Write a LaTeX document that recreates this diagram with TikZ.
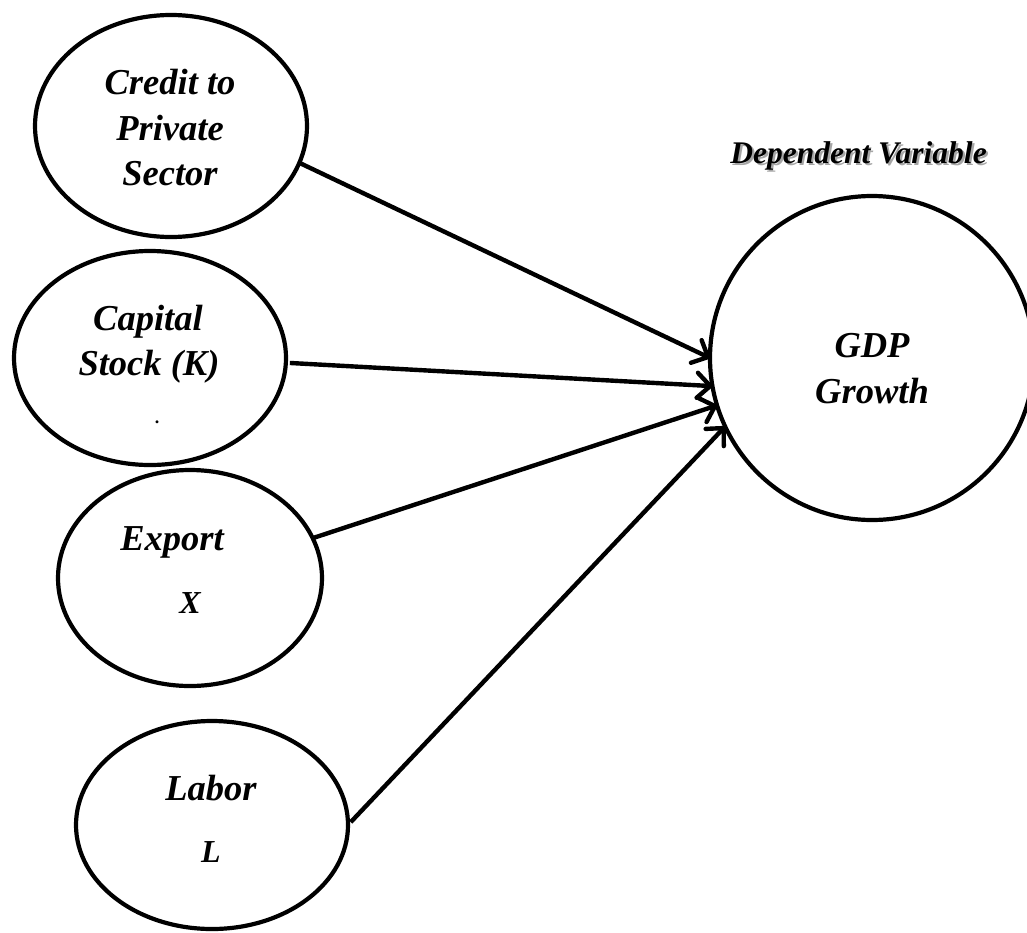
\documentclass[tikz,border=0pt]{standalone}
\usepackage{fontspec}
\setmainfont{Liberation Serif}
\usetikzlibrary{arrows.meta,shapes.geometric}
\begin{document}
\begin{tikzpicture}[x=1pt,y=-1pt,
  oval/.style={draw,ellipse,line width=4.2pt,inner sep=0pt,outer sep=0pt},
  lbl/.style={anchor=base,inner sep=0pt,font=\fontsize{36.5}{44}\selectfont\bfseries\itshape},
  sml/.style={anchor=base,inner sep=0pt,font=\fontsize{32}{38}\selectfont\bfseries\itshape},
  deplbl/.style={anchor=base,inner sep=0pt,font=\fontsize{31.5}{36}\selectfont\bfseries\itshape},
  link/.style={line width=4.4pt,-{Straight Barb[length=13pt,width=25pt,line cap=round,line join=round]}}
]
\useasboundingbox (0,0) rectangle (1027,932);
\clip (0,0) rectangle (1027,932);

% ovals
\node[oval,minimum width=272pt,minimum height=222pt] (credit) at (171,126) {};
\node[oval,minimum width=272pt,minimum height=214pt] (capital) at (150,358) {};
\node[oval,minimum width=264pt,minimum height=216pt] (export) at (190,578) {};
\node[oval,minimum width=272pt,minimum height=208pt] (labor) at (212,825) {};
\node[draw,circle,line width=4.2pt,inner sep=0pt,outer sep=0pt,minimum size=324pt] (gdp) at (872,358) {};

% texts
\node[lbl] (c1) at (170,94) {Credit to};
\node[lbl] (c2) at (170,140) {Private};
\node[lbl] (c3) at (170,185) {Sector};
\node[lbl] (k1) at (148,330) {Capital};
\node[lbl] (k2) at (149,375) {Stock (K)};
\node[anchor=base,inner sep=0pt,font=\fontsize{18}{20}\selectfont\bfseries] (kdot) at (157,423) {.};
\node[lbl] (x1) at (172,550) {Export};
\node[sml] (x2) at (190,613) {X};
\node[lbl] (l1) at (211,800) {Labor};
\node[sml] (l2) at (211,862) {L};
\node[lbl] (g1) at (872,357) {GDP};
\node[lbl] (g2) at (872,403) {Growth};
\node[deplbl] (dep) at (858.5,163) {\rlap{\hspace{2.2pt}\raisebox{-2.6pt}{\color{black!35}Dependent Variable}}Dependent Variable};

% connectors
\draw[link] (credit.-16.8) -- (gdp.180.7);
\draw[link,shorten <=4pt] (capital.-2) -- (gdp.190.4);
\draw[link] (export.18.4) -- (gdp.197.5);
\draw[link,shorten <=4pt] (labor.-0.8) -- (gdp.205.3);
\end{tikzpicture}
\end{document}
